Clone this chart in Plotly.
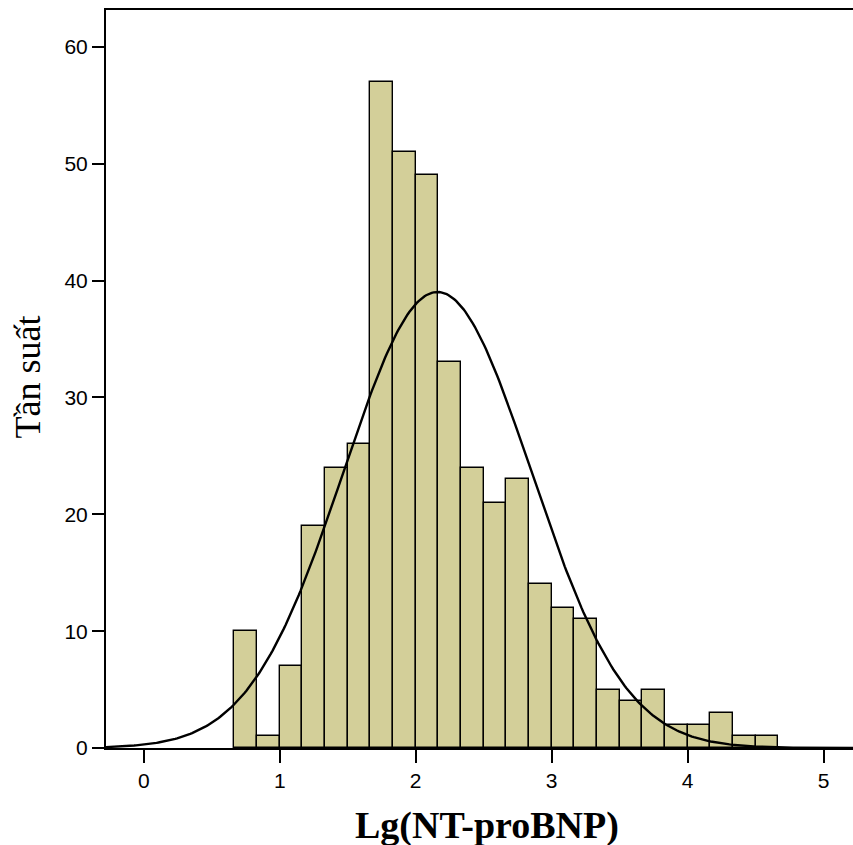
import numpy as np
import plotly.graph_objects as go

# Histogram data (bin edges at multiples of 1/6)
bin_start = 4 / 6
bin_width = 1 / 6
counts = [10, 1, 7, 19, 24, 26, 57, 51, 49, 33, 24, 21, 23, 14, 12, 11, 5, 4, 5, 2, 2, 3, 1, 1]

# Fitted normal curve parameters
fit_mean = 2.16
fit_sd = 0.69
n_total = sum(counts)

x_ticks = [0, 1, 2, 3, 4, 5]
y_ticks = [0, 10, 20, 30, 40, 50, 60]
x_title = "Lg(NT-proBNP)"
y_title = "Tần suất"

x_range = [-0.278, 5.217]
y_range = [0, 63.16]

centers = [bin_start + (i + 0.5) * bin_width for i in range(len(counts))]

xs = np.linspace(x_range[0], x_range[1], 400)
ys = n_total * bin_width / (fit_sd * np.sqrt(2 * np.pi)) * np.exp(-0.5 * ((xs - fit_mean) / fit_sd) ** 2)

fig = go.Figure()
fig.add_trace(go.Bar(
    x=centers, y=counts, width=bin_width,
    marker=dict(color="#d3cf99", line=dict(color="black", width=1.4)),
    hoverinfo="x+y", showlegend=False,
))
fig.add_trace(go.Scatter(
    x=xs, y=ys, mode="lines",
    line=dict(color="black", width=2.4),
    hoverinfo="skip", showlegend=False,
))

tickfont = dict(family="Liberation Sans, Arial, sans-serif", size=21, color="black")

fig.update_layout(
    width=853, height=845,
    margin=dict(l=105.7, r=0, t=9.5, b=96.7, autoexpand=False),
    paper_bgcolor="white", plot_bgcolor="white",
    bargap=0,
    xaxis=dict(
        range=x_range, tickvals=x_ticks, ticktext=[str(v) for v in x_ticks],
        showgrid=False, zeroline=False,
        showline=True, linecolor="black", linewidth=2, mirror=True,
        ticks="outside", ticklen=13, tickwidth=2, tickcolor="black",
        tickfont=tickfont,
    ),
    yaxis=dict(
        range=y_range, tickvals=y_ticks, ticktext=[str(v) for v in y_ticks],
        showgrid=False, zeroline=False,
        showline=True, linecolor="black", linewidth=2,
        ticks="outside", ticklen=12, tickwidth=2, tickcolor="black",
        tickfont=tickfont,
    ),
    annotations=[
        dict(text="<b>" + x_title + "</b>", xref="paper", yref="paper", x=0.51, y=0,
             xanchor="center", yanchor="middle", yshift=-77, showarrow=False,
             font=dict(family="Liberation Serif, Times New Roman, serif", size=38, color="black"),
             ),
        dict(text=y_title, xref="paper", yref="paper", x=0, y=0.502,
             xanchor="center", yanchor="middle", xshift=-78, textangle=-90, showarrow=False,
             font=dict(family="Liberation Serif, Times New Roman, serif", size=36, color="black"),
             ),
    ],
)

fig.write_html("out.html")
